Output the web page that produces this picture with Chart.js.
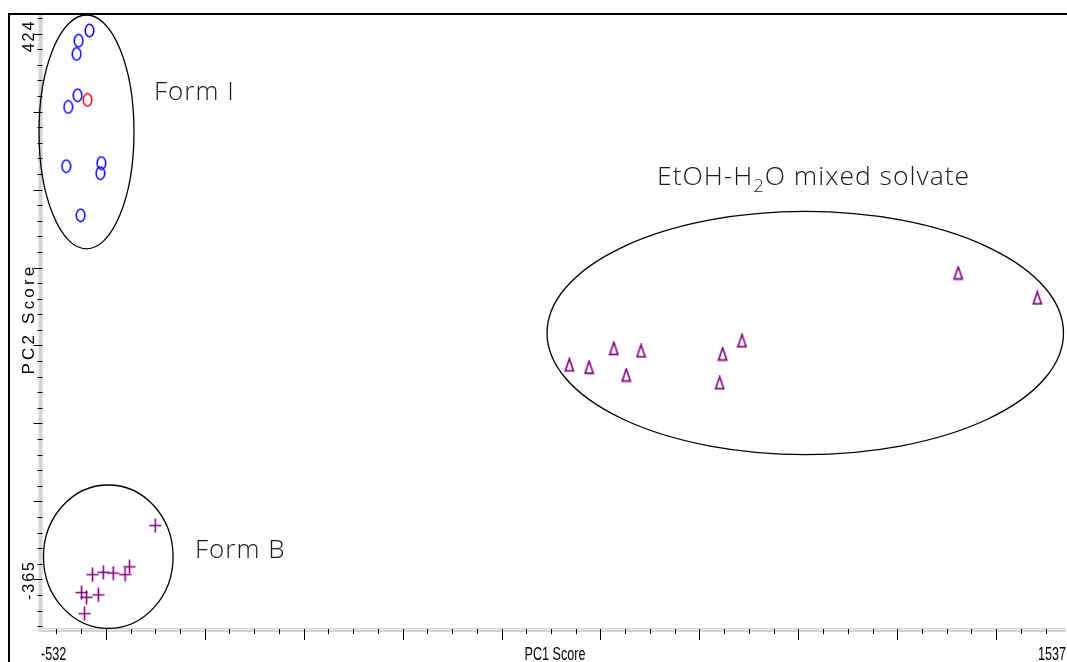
<!DOCTYPE html>
<html>
<head>
<meta charset="utf-8">
<script src="https://cdn.jsdelivr.net/npm/chart.js@4.4.1/dist/chart.umd.min.js"></script>
<style>
  html, body { margin: 0; padding: 0; background: #fff; overflow: hidden; }
  #wrap { width: 1067px; height: 662px; overflow: hidden; }
</style>
</head>
<body>
<div id="wrap"><canvas id="pca" width="1069" height="662"></canvas></div>
<script>
// PCA score plot data (PC1, PC2)
const formIX = [-433, -455, -459, -457, -476, -480, -409, -411, -451];
const formIY = [404, 391, 374, 321, 306, 230, 234, 221, 167];
const refX = [-437];
const refY = [315];
const formBX = [-300, -427, -405, -385, -361, -352, -449, -439, -415, -443];
const formBY = [-231, -294, -291, -292, -294, -284, -317, -323, -320, -344];
const solvX = [537, 577, 627, 682, 652, 847, 841, 886, 1323, 1483];
const solvY = [-25, -28, -4, -7, -38, -11, -48, 6, 93, 61];

// axes
const xMin = -532, xMax = 1537;
const yMin = -365, yMax = 424;
const xMajor = [-400, -200, 0, 200, 400, 600, 800, 1000, 1200, 1400];
const xMinorStep = 50;
const yMajor = [-300, -200, -100, 0, 100, 200, 300, 400];
const yMinorStep = 20;
const xTickLabels = ['-532', '1537'];
const yTickLabels = ['424', '-365'];

// cluster ellipses: centre x, centre y, half width, half height (score units)
const groupNames = ['Form I', 'Form B', 'EtOH-H2O mixed solvate'];
const ellCx = [-439, -395, 1014];
const ellCy = [274, -271, 16];
const ellRx = [96, 131, 522];
const ellRy = [150, 92, 156];

const purple = '#800080';

function marker(w, h, draw) {
    const c = document.createElement('canvas');
    c.width = w; c.height = h;
    draw(c.getContext('2d'));
    return c;
}
const circleStyle = (color) => marker(11, 15, g => {
    g.strokeStyle = color; g.lineWidth = 1.5;
    g.beginPath(); g.ellipse(5.5, 7.5, 4.3, 6.2, 0, 0, Math.PI * 2); g.stroke();
});
const triStyle = marker(11, 15, g => {
    g.strokeStyle = purple; g.lineWidth = 1.6;
    g.beginPath(); g.moveTo(5.5, 1.2); g.lineTo(9.6, 13.4); g.lineTo(1.4, 13.4); g.closePath(); g.stroke();
});
const crossStyle = marker(13, 15, g => {
    g.strokeStyle = purple; g.lineWidth = 1.6;
    g.beginPath(); g.moveTo(6.5, 0.5); g.lineTo(6.5, 14.5); g.moveTo(0.5, 7.5); g.lineTo(12.5, 7.5); g.stroke();
});

const pts = (xs, ys) => xs.map((x, i) => ({ x: x, y: ys[i] }));

// condensed text, like the original axis font
function narrowText(ctx, txt, x, y, align) {
    const sx = 0.7;
    ctx.save();
    ctx.font = '18px "Liberation Sans", Arial';
    const w = ctx.measureText(txt).width * sx;
    const left = align === 'left' ? x : align === 'right' ? x - w : x - w / 2;
    ctx.translate(left, y);
    ctx.scale(sx, 1);
    ctx.textAlign = 'left';
    ctx.fillText(txt, 0, 0);
    ctx.restore();
}

const decor = {
    id: 'decor',
    beforeDatasetsDraw(chart) {
        const ctx = chart.ctx;
        const xs = chart.scales.x, ys = chart.scales.y;
        const a = chart.chartArea;
        ctx.save();

        // outer frame
        ctx.strokeStyle = '#000'; ctx.lineWidth = 2;
        ctx.beginPath(); ctx.moveTo(9, 662); ctx.lineTo(9, 14); ctx.lineTo(1069, 14); ctx.stroke();

        // axis bars
        ctx.fillStyle = '#d4d4d4';
        ctx.fillRect(a.left - 2, a.top, 4, a.bottom - a.top);
        ctx.fillRect(a.left - 2, a.bottom - 2, a.right - a.left + 4, 4);
        ctx.fillStyle = '#ececec';
        ctx.fillRect(a.left - 2, a.bottom - 1, a.right - a.left + 4, 1);

        // ticks
        ctx.strokeStyle = '#000'; ctx.lineWidth = 1;
        for (let v = Math.ceil(xMin / xMinorStep) * xMinorStep; v <= xMax; v += xMinorStep) {
            const p = Math.round(xs.getPixelForValue(v)) + 0.5;
            const big = xMajor.includes(v);
            ctx.beginPath(); ctx.moveTo(p, a.bottom - 1); ctx.lineTo(p, a.bottom + (big ? 10 : 4)); ctx.stroke();
        }
        for (let v = Math.ceil(yMin / yMinorStep) * yMinorStep; v <= yMax; v += yMinorStep) {
            const p = Math.round(ys.getPixelForValue(v)) + 0.5;
            const big = yMajor.includes(v);
            ctx.beginPath(); ctx.moveTo(a.left - (big ? 7 : 3), p); ctx.lineTo(a.left + 2, p); ctx.stroke();
        }

        // axis texts
        ctx.fillStyle = '#000';
        ctx.textBaseline = 'alphabetic';
        narrowText(ctx, xTickLabels[0], 41, 660, 'left');
        narrowText(ctx, xTickLabels[1], 1066, 660, 'right');
        narrowText(ctx, 'PC1 Score', 555, 660, 'center');

        ctx.save();
        ctx.translate(34, 0);
        ctx.rotate(-Math.PI / 2);
        ctx.font = '16px "Liberation Sans", Arial';
        ctx.textAlign = 'center';
        ctx.letterSpacing = '2px';
        ctx.fillText(yTickLabels[0], -36, 0);
        ctx.fillText(yTickLabels[1], -580, 0);
        ctx.font = '17px "Liberation Sans", Arial';
        ctx.letterSpacing = '3.2px';
        ctx.fillText('PC2 Score', -319, 0);
        ctx.restore();

        // cluster ellipses
        ctx.strokeStyle = '#000'; ctx.lineWidth = 1.3;
        ellCx.forEach((cx, i) => {
            const px = xs.getPixelForValue(cx), py = ys.getPixelForValue(ellCy[i]);
            const rx = xs.getPixelForValue(cx + ellRx[i]) - px;
            const ry = py - ys.getPixelForValue(ellCy[i] + ellRy[i]);
            ctx.beginPath(); ctx.ellipse(px, py, rx, ry, 0, 0, Math.PI * 2); ctx.stroke();
        });

        // group labels
        ctx.fillStyle = '#1a1a1a';
        ctx.textAlign = 'left';
        ctx.letterSpacing = '1px';
        const fam = '"Open Sans", "Noto Sans", sans-serif';
        ctx.font = '300 26px ' + fam;
        ctx.fillText(groupNames[0], 154, 100);
        ctx.fillText(groupNames[1], 195, 558);
        const big = '300 26.5px ' + fam;
        const small = '300 18px ' + fam;
        let x = 657;
        ctx.font = big; ctx.fillText('EtOH-H', x, 185); x += ctx.measureText('EtOH-H').width;
        ctx.font = small; ctx.fillText('2', x, 192); x += ctx.measureText('2').width;
        ctx.font = big; ctx.fillText('O mixed solvate', x, 185);

        ctx.restore();
    }
};

new Chart(document.getElementById('pca'), {
    type: 'scatter',
    data: {
        datasets: [
            { label: 'Form I', data: pts(formIX, formIY), pointStyle: circleStyle('#0000ff') },
            { label: 'Reference', data: pts(refX, refY), pointStyle: circleStyle('#ff0000') },
            { label: 'Form B', data: pts(formBX, formBY), pointStyle: crossStyle },
            { label: 'EtOH-H2O solvate', data: pts(solvX, solvY), pointStyle: triStyle }
        ]
    },
    options: {
        responsive: false,
        animation: false,
        layout: { padding: { left: 40.5, right: 1, top: 15, bottom: 32 } },
        plugins: { legend: { display: false }, tooltip: { enabled: false } },
        scales: {
            x: { type: 'linear', min: xMin, max: xMax, display: false },
            y: { type: 'linear', min: yMin, max: yMax, display: false }
        }
    },
    plugins: [decor]
});
</script>
</body>
</html>
